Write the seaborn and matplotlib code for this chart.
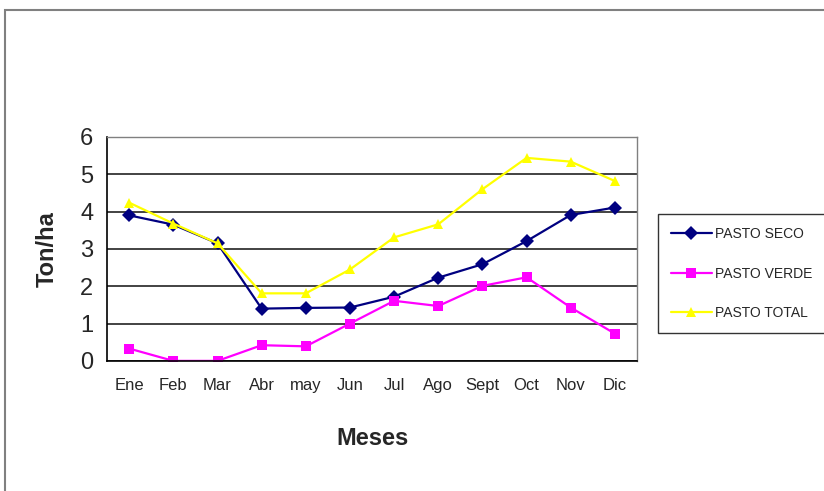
import numpy as np
import pandas as pd
import matplotlib
matplotlib.use('Agg')
import matplotlib.pyplot as plt
import seaborn as sns
from matplotlib.patches import Rectangle

# data
meses = ['Ene', 'Feb', 'Mar', 'Abr', 'may', 'Jun', 'Jul', 'Ago', 'Sept', 'Oct', 'Nov', 'Dic']
pasto_seco = [3.9, 3.65, 3.15, 1.4, 1.42, 1.43, 1.72, 2.23, 2.59, 3.21, 3.91, 4.11]
pasto_verde = [0.33, 0.0, 0.0, 0.42, 0.39, 1.0, 1.61, 1.47, 2.01, 2.24, 1.43, 0.73]
pasto_total = [4.24, 3.68, 3.15, 1.81, 1.81, 2.45, 3.31, 3.66, 4.6, 5.44, 5.34, 4.82]

series = ['PASTO SECO', 'PASTO VERDE', 'PASTO TOTAL']
colores = {'PASTO SECO': '#000080', 'PASTO VERDE': '#FF00FF', 'PASTO TOTAL': '#FFFF00'}
marcadores = {'PASTO SECO': 'D', 'PASTO VERDE': 's', 'PASTO TOTAL': '^'}

df = pd.DataFrame({'Mes': meses, 'PASTO SECO': pasto_seco,
                   'PASTO VERDE': pasto_verde, 'PASTO TOTAL': pasto_total})
df['x'] = np.arange(len(meses))
long_df = df.melt(id_vars=['Mes', 'x'], value_vars=series, var_name='Serie', value_name='Ton/ha')

sns.set_style('white')
plt.rcParams['font.family'] = ['Liberation Sans', 'DejaVu Sans']

fig = plt.figure(figsize=(8.24, 4.91), dpi=100)
ax = fig.add_axes([0.130, 0.265, 0.643, 0.456])

sns.lineplot(data=long_df, x='x', y='Ton/ha', hue='Serie', style='Serie',
             hue_order=series, style_order=series, palette=colores,
             markers=marcadores, dashes=False, markersize=7, linewidth=1.6,
             markeredgewidth=0, ax=ax, legend=True)

ax.set_xlim(-0.5, 11.5)
ax.set_ylim(0, 6)
ax.set_yticks(range(0, 7))
ax.set_yticklabels([str(i) for i in range(0, 7)], fontsize=17)
ax.set_xticks(np.arange(12))
ax.set_xticklabels(meses, fontsize=12)
ax.set_xticks(np.arange(-0.5, 12, 1), minor=True)
ax.tick_params(axis='x', which='major', length=0, pad=12)
ax.tick_params(axis='x', which='minor', length=6, width=1, color='black', direction='out')
ax.tick_params(axis='y', which='major', length=6, width=1, color='black', direction='out', pad=4)
ax.grid(axis='y', color='#222222', linewidth=1.2)
ax.set_axisbelow(True)

for s in ['left', 'bottom']:
    ax.spines[s].set_color('black')
    ax.spines[s].set_linewidth(1.2)
for s in ['top', 'right']:
    ax.spines[s].set_color('#808080')
    ax.spines[s].set_linewidth(1)

ax.set_xlabel('Meses', fontsize=17, fontweight='bold', labelpad=25)
ax.set_ylabel('Ton/ha', fontsize=17, fontweight='bold', labelpad=15)

leg = ax.legend(title=None, loc='center left', bbox_to_anchor=(1.04, 0.39),
                fontsize=10, frameon=True, fancybox=False, edgecolor='black',
                labelspacing=1.85, handlelength=3.0, handletextpad=0.2,
                borderpad=0.9, borderaxespad=0)
leg.get_frame().set_linewidth(1)

# outer border of the picture
fig.patches.append(Rectangle((0.006, -0.05), 1.2, 1.03, transform=fig.transFigure,
                             fill=False, edgecolor='#808080', linewidth=1.5))

fig.savefig('out.png', dpi=100)
